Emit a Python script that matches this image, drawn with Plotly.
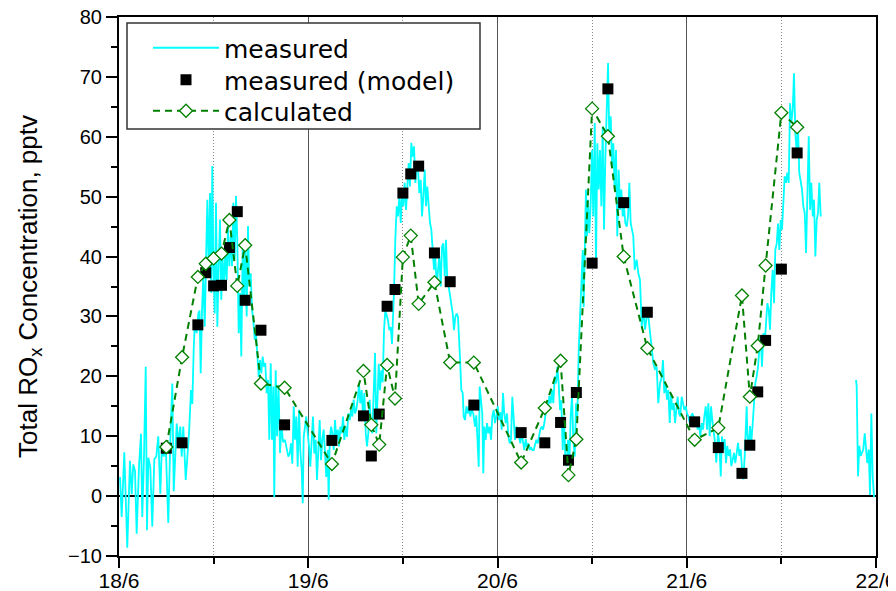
import plotly.graph_objects as go

# ---- measured total ROx (hours after 18/6 00:00, pptv) ----
meas_hours = [
    0.13, 0.34, 0.67, 1.05, 1.39, 1.61, 1.81, 2.03, 2.24, 2.54, 2.79, 2.95, 3.17, 3.39, 3.55, 3.72, 3.97, 4.22, 4.48, 4.73,
    4.98, 5.24, 5.42, 5.67, 5.92, 6.25, 6.51, 6.76, 6.94, 7.10, 7.32, 7.52, 7.77, 7.95, 8.15, 8.46, 8.71, 8.88, 9.13, 9.30,
    9.47, 9.64, 9.85, 10.06, 10.21,
    10.36, 10.53, 10.69, 10.87, 11.03, 11.20, 11.38, 11.54, 11.71, 11.83, 11.96, 12.14, 12.30, 12.47, 12.64, 12.81, 12.97,
    13.15, 13.32, 13.48, 13.66, 13.82, 13.99, 14.17, 14.33, 14.50, 14.67, 14.84, 15.00, 15.18, 15.35, 15.51, 15.69, 15.85,
    16.02, 16.19, 16.36, 16.52, 16.70, 16.87, 17.03, 17.21, 17.37, 17.54, 17.72, 17.88, 18.05, 18.22, 18.39, 18.55, 18.73,
    18.90, 19.06, 19.24, 19.40, 19.57, 19.69, 19.87, 20.04, 20.23, 20.42, 20.61, 20.80,
    21.05, 21.27, 21.47, 21.65, 21.81, 21.98, 22.16, 22.32, 22.49, 22.66, 22.83, 22.99, 23.17, 23.30, 23.42, 23.59, 23.75,
    23.93, 24.10, 24.26, 24.44, 24.60, 24.77, 24.95, 25.11, 25.28, 25.45, 25.62, 25.78, 25.96, 26.12, 26.29, 26.47, 26.59,
    26.72, 26.89, 27.05, 27.23, 27.39, 27.56, 27.74, 27.90, 28.07, 28.24, 28.41, 28.57, 28.75, 28.91, 29.08, 29.26, 29.42,
    29.59, 29.76, 29.93, 30.09, 30.27, 30.44, 30.60, 30.78, 30.94, 31.11, 31.29, 31.45, 31.62, 31.79, 31.96, 32.12, 32.30,
    32.47, 32.63, 32.81,
    32.94, 33.10, 33.26, 33.44, 33.61, 33.77, 33.95, 34.11, 34.28, 34.46, 34.62, 34.79, 34.88, 35.04, 35.22, 35.38, 35.55,
    35.73, 35.89, 36.06, 36.23, 36.40, 36.56, 36.74, 36.90, 37.07, 37.25, 37.41, 37.58, 37.75, 37.92, 38.08, 38.26, 38.43,
    38.59, 38.77, 38.93, 39.10, 39.28, 39.44, 39.61, 39.78, 39.95, 40.11, 40.29, 40.46, 40.62, 40.80, 40.96, 41.13, 41.31,
    41.47, 41.64, 41.81, 41.98, 42.14, 42.32, 42.48, 42.65, 42.83, 42.99,
    43.25, 43.41, 43.59, 43.71, 43.88, 44.05, 44.22, 44.39, 44.55, 44.73, 44.93, 45.15, 45.31, 45.49, 45.62, 45.74, 45.91,
    46.07, 46.20, 46.33, 46.50, 46.67, 46.83, 47.01, 47.18, 47.34, 47.52, 47.68, 47.85, 48.03, 48.19, 48.36, 48.53, 48.70,
    48.86, 49.04, 49.21, 49.37, 49.55, 49.71, 49.88, 50.06, 50.22, 50.39, 50.56, 50.73, 50.89, 51.07, 51.23, 51.40, 51.58,
    51.74, 51.91, 52.09, 52.25, 52.41, 52.59, 52.76, 52.92, 53.10, 53.26, 53.43, 53.61, 53.77, 53.94, 54.11, 54.28, 54.44,
    54.57, 54.75, 54.91, 55.08, 55.26, 55.42, 55.59, 55.76, 55.93, 56.09, 56.27, 56.43, 56.60, 56.78, 56.94, 57.11, 57.28,
    57.45, 57.61, 57.79, 57.96, 58.12, 58.30, 58.46, 58.63, 58.81, 58.93, 59.06, 59.22, 59.35, 59.48, 59.64, 59.82, 59.99,
    60.15, 60.33, 60.49, 60.66, 60.84, 61.00, 61.17, 61.34, 61.51, 61.67, 61.85, 62.02, 62.18, 62.36, 62.52, 62.69, 62.86,
    63.03, 63.19, 63.37, 63.54, 63.70, 63.88, 64.04, 64.21, 64.39, 64.55, 64.72, 64.89, 65.06, 65.22, 65.40,
    65.65, 65.86, 66.07, 66.29, 66.49, 66.71, 66.92, 67.13, 67.34, 67.56, 67.76, 67.98, 68.19, 68.39, 68.61, 68.82, 68.99,
    69.15, 69.33, 69.50, 69.66, 69.84, 70.00, 70.17, 70.35, 70.51, 70.68, 70.85, 71.02, 71.18, 71.36, 71.53, 71.69, 71.87,
    72.03, 72.20, 72.38, 72.54, 72.71, 72.88, 73.05, 73.21, 73.39, 73.56, 73.72, 73.90, 74.06, 74.23, 74.41, 74.57, 74.74,
    74.91, 75.08, 75.24, 75.42, 75.59, 75.75,
    75.96, 76.13, 76.31, 76.47, 76.64, 76.81, 76.98, 77.14, 77.32, 77.49, 77.65, 77.83, 77.99, 78.16, 78.34, 78.50, 78.67,
    78.84, 79.01, 79.17, 79.35, 79.52, 79.60, 79.68, 79.86, 80.02, 80.19, 80.37, 80.53, 80.70, 80.87, 81.04, 81.20, 81.38,
    81.54, 81.71, 81.89, 82.05, 82.22, 82.40, 82.56, 82.72, 82.90, 83.07, 83.23, 83.41, 83.58, 83.74, 83.92, 84.08, 84.25,
    84.42, 84.59, 84.75, 84.93, 85.10, 85.26, 85.44, 85.60, 85.77, 85.95, 86.11, 86.27, 86.45, 86.62, 86.78, 86.96, 87.13,
    87.29, 87.47, 87.64, 87.80, 87.98, 88.14, 88.31, 88.48, 88.65, 88.81, 88.99,
    89.50,
    93.47, 93.55, 93.72, 93.89, 94.06, 94.23, 94.39, 94.57, 94.73, 94.90, 95.08, 95.24, 95.41, 95.58, 95.75,
]
meas_values = [
    3.2, -3.5, 7.3, -8.6, 5.9, 0.3, 5.3, 4.2, -6.3, 5.1, 10.4, -3.5, 6.6, 21.6, -5.7, 6.4, 4.8, -5.1, 6.2, 6.6,
    10.0, 0.4, 7.7, 6.6, 8.8, -4.5, 9.4, 18.8, 0.8, 7.1, 12.1, 8.8, 11.6, 6.6, 11.6, 2.7, 6.6, 10.5, 17.7, 15.4,
    24.4, 29.4, 27.2, 30.5, 31.0,
    20.5, 31.1, 36.7, 28.3, 39.5, 49.5, 37.8, 50.6, 33.9, 55.1, 39.5, 30.5, 49.0, 28.3, 38.4, 46.2, 32.8,
    39.5, 35.0, 40.6, 36.1, 45.1, 38.4, 43.4, 38.4, 49.0, 39.5, 50.1, 42.8, 27.2, 33.9, 23.3, 42.3, 32.8,
    41.7, 30.0, 45.1, 35.0, 37.2, 31.1, 29.4, 26.1, 27.2, 23.3, 19.9, 22.7, 20.5, 23.3, 21.6, 22.2, 17.2,
    19.4, 9.4, 22.2, 9.4, 18.3, -0.2, 21.0, 10.0, 18.5, 7.2, 12.0, 9.0,
    9.4, 7.7, 6.6, 7.1, 8.8, 5.4, 15.0, 9.4, 13.3, 4.9, 14.4, 7.7, 4.3, -1.2, 9.9, 11.6, 13.3,
    10.5, 8.3, 4.9, 9.4, 13.3, 7.1, 9.4, 2.7, 9.4, 12.7, 6.0, 9.4, 11.1, 7.1, 3.2, 7.7, -0.6,
    9.4, 11.6, 10.5, 7.7, 12.7, 9.4, 11.1, 8.3, 11.6, 10.5, 13.3, 9.4, 11.6, 9.9, 13.8, 12.7, 14.4,
    13.3, 16.1, 13.8, 14.4, 16.1, 18.8, 15.5, 17.7, 13.3, 17.2, 10.5, 8.3, 10.5, 16.1, 11.6, 10.5, 16.1,
    23.9, 10.5, 17.2,
    22.1, 17.7, 21.0, 19.0, 27.7, 31.0, 29.9, 29.4, 27.7, 28.2, 25.4, 29.9, 34.4, 42.8, 48.4, 46.7, 50.0,
    45.6, 51.2, 48.4, 52.3, 47.8, 52.8, 55.6, 51.7, 59.0, 56.7, 58.4, 52.3, 55.6, 54.5, 50.6, 52.8, 46.7,
    50.0, 54.5, 48.4, 51.7, 48.4, 45.6, 44.5, 41.1, 37.8, 40.0, 35.0, 37.8, 40.0, 35.0, 41.7, 42.2, 36.7,
    42.8, 35.5, 35.0, 33.3, 32.2, 30.5, 27.7, 29.9, 30.5, 29.9,
    23.0, 17.7, 17.2, 13.3, 12.7, 15.0, 13.8, 15.0, 13.3, 14.4, 13.8, 11.6, 13.5, 8.2, 4.9, 18.3, 15.5,
    13.8, 3.8, 11.6, 9.4, 12.2, 10.5, 11.6, 9.4, 13.3, 14.4, 12.2, 13.3, 15.0, 12.7, 14.0, 11.1, 17.2,
    13.8, 12.2, 13.8, 10.0, 8.8, 9.5, 16.6, 13.3, 9.4, 11.6, 11.1, 10.0, 8.8, 10.5, 9.4, 7.7, 9.5,
    8.2, 8.8, 7.7, 8.2, 7.7, 7.7, 8.8, 9.4, 8.8, 10.0, 11.1, 11.6, 11.1, 12.2, 13.8, 14.4, 15.0,
    16.7, 15.5, 17.7, 15.5, 20.0, 18.8, 21.6, 18.8, 14.4, 16.0, 7.7, 13.3, 6.6, 5.0, 9.4, 5.5, 13.3,
    16.7, 9.4, 6.6, 15.5, 13.3, 24.4, 30.0, 35.6, 41.1, 31.6, 43.9, 51.2, 43.4, 49.5, 43.9, 48.9, 57.8,
    46.7, 62.3, 38.4, 58.9, 51.2, 57.8, 48.4, 61.7, 44.5, 56.1, 65.6, 72.3, 58.9, 63.4, 55.0, 58.9, 51.2,
    57.8, 43.4, 54.5, 47.8, 51.2, 46.7, 48.4, 45.6, 45.0, 46.7, 52.3, 45.6, 44.5, 43.4, 37.8,
    39.5, 37.2, 36.1, 28.3, 31.1, 27.8, 30.0, 30.0, 27.2, 24.4, 22.2, 21.1, 21.6, 15.5, 18.8, 19.9, 22.7,
    17.2, 18.8, 16.1, 17.7, 12.2, 17.2, 14.4, 15.5, 12.2, 15.0, 16.6, 13.8, 13.3, 16.6, 15.5, 14.4, 15.0,
    13.8, 13.3, 12.2, 13.3, 13.8, 13.3, 11.6, 12.7, 11.1, 12.2, 10.0, 12.2, 11.1, 13.3, 15.0, 11.1, 15.5,
    10.0, 15.0, 12.7, 11.1, 8.9, 5.6,
    10.5, 8.9, 3.3, 10.0, 7.8, 9.5, 5.5, 8.4, 6.7, 7.8, 5.0, 6.1, 7.2, 5.5, 7.8, 8.9, 6.7,
    7.8, 4.5, 2.8, 6.7, 11.7, 15.0, 10.5, 7.8, 11.7, 8.9, 12.2, 16.1, 18.9, 20.0, 21.6, 24.4, 26.7,
    21.6, 27.2, 25.5, 28.9, 32.2, 31.1, 27.8, 33.9, 37.8, 32.2, 41.1, 42.2, 45.5, 41.1, 46.1, 44.5, 48.9,
    53.4, 52.3, 54.0, 52.3, 65.6, 62.3, 64.5, 70.6, 60.6, 57.3, 61.7, 54.0, 52.3, 51.2, 48.4, 47.3, 40.6,
    47.8, 60.1, 47.8, 52.3, 46.7, 49.5, 40.0, 46.1, 47.3, 52.3, 46.7,
    None,
    19.4, 18.3, 3.3, 8.4, 6.7, 7.2, 7.8, 10.5, 7.2, 5.5, 7.8, 0.2, 13.8, 3.3, -0.2,
]

# ---- model time steps (hours after 18/6 00:00) ----
model_hours = [6, 8, 10, 11, 12, 13, 14, 15, 16, 18, 21, 27, 31, 32, 33, 34, 35, 36, 37, 38,
               40, 42, 45, 51, 54, 56, 57, 58, 60, 62, 64, 67, 73, 76, 79, 80, 81, 82, 84, 86]
measured_model = [8.0, 8.9, 28.6, 37.3, 35.1, 35.2, 41.5, 47.5, 32.7, 27.7, 11.9, 9.3, 13.4, 6.7, 13.7,
                  31.7, 34.5, 50.6, 53.8, 55.1, 40.6, 35.8, 15.2, 10.6, 8.9, 12.3, 6.0, 17.3, 38.9, 68.0,
                  49.0, 30.7, 12.4, 8.1, 3.8, 8.5, 17.4, 26.0, 37.9, 57.3]
calculated = [8.2, 23.2, 36.6, 38.8, 39.7, 40.5, 46.1, 35.1, 41.9, 18.8, 18.1, 5.35, 20.9, 11.9, 8.6,
              21.9, 16.3, 39.9, 43.5, 32.1, 35.7, 22.3, 22.3, 5.6, 14.7, 22.6, 3.5, 9.5, 64.7, 60.1,
              40.0, 24.7, 9.4, 11.4, 33.5, 16.6, 25.1, 38.5, 64.0, 61.6]

day_tick_hours = [0, 24, 48, 72, 96]
day_tick_labels = ["18/6", "19/6", "20/6", "21/6", "22/6"]

SANS = "Liberation Sans, Arial, sans-serif"
LEG_FONT = dict(family="DejaVu Sans, sans-serif", size=25, color="black")

# page layout: the page body adds an 8 px offset to the figure
OFF = 8
FIG_W, FIG_H = 896, 591 - OFF
PX0, PX1, PY0, PY1 = 119, 876, 17, 556          # plot area in page pixels
PW, PH = PX1 - PX0, PY1 - PY0


def px(xp):
    return (xp - PX0) / PW


def py(yp):
    return (PY1 - yp) / PH


fig = go.Figure()
fig.add_trace(go.Scatter(
    x=meas_hours, y=meas_values, mode="lines", name="measured", legend="legend",
    line=dict(color="#00FFFF", width=1.8), connectgaps=False))
fig.add_trace(go.Scatter(
    x=model_hours, y=measured_model, mode="markers", name="measured (model)", legend="legend2",
    marker=dict(symbol="square", size=11, color="black")))
fig.add_trace(go.Scatter(
    x=model_hours, y=calculated, mode="lines+markers", name="calculated", legend="legend3",
    line=dict(color="#008000", width=2, dash="7px,5px"),
    marker=dict(symbol="diamond", size=10, color="white",
                line=dict(color="#008000", width=1.3))))

# legend frame (decoration)
fig.add_shape(type="rect", xref="paper", yref="paper",
              x0=px(127), x1=px(480), y0=py(129), y1=py(23),
              line=dict(color="#333333", width=1.5), fillcolor="white", layer="above")

leg_common = dict(xanchor="left", yanchor="top", bgcolor="rgba(0,0,0,0)", borderwidth=0,
                  font=LEG_FONT, itemwidth=66)

fig.update_layout(
    width=FIG_W, height=FIG_H,
    margin=dict(l=PX0 - OFF, r=FIG_W - (PX1 - OFF), t=PY0 - OFF, b=FIG_H - (PY1 - OFF)),
    paper_bgcolor="white", plot_bgcolor="white",
    font=dict(family=SANS, color="black"),
    showlegend=True,
    legend=dict(x=px(148), y=py(25), **leg_common),
    legend2=dict(x=px(148), y=py(57), **leg_common),
    legend3=dict(x=px(148), y=py(88), **leg_common),
    xaxis=dict(
        range=[0, 96], tickmode="array", tickvals=day_tick_hours, ticktext=day_tick_labels,
        ticks="outside", ticklen=10, tickwidth=2, tickcolor="black",
        tickfont=dict(size=21, family=SANS), automargin=False, ticklabeloverflow="allow",
        ticklabelstandoff=-5,
        showline=True, linewidth=2, linecolor="black", mirror=True,
        showgrid=True, gridcolor="#555555", gridwidth=1.2, zeroline=False,
        minor=dict(tickmode="linear", tick0=0, dtick=12, ticks="outside", ticklen=6,
                   tickwidth=1.5, tickcolor="black", showgrid=True, gridcolor="#888888",
                   griddash="1px,2px", gridwidth=1),
    ),
    yaxis=dict(
        range=[-10, 80], tick0=0, dtick=10,
        ticks="outside", ticklen=11, tickwidth=2, tickcolor="black",
        tickfont=dict(size=20, family=SANS), automargin=False, ticklabeloverflow="allow",
        showline=True, linewidth=2, linecolor="black", mirror=True,
        showgrid=False, zeroline=True, zerolinecolor="black", zerolinewidth=1.5,
        minor=dict(dtick=5, ticks="outside", ticklen=6, tickwidth=1.5, tickcolor="black",
                   showgrid=False),
        title=dict(text="Total RO<sub>x</sub> Concentration, pptv",
                   font=dict(size=26, family=SANS), standoff=23),
    ),
)

fig.write_html("out.html")
